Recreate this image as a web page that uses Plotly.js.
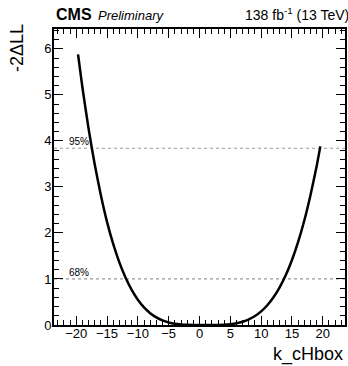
<!DOCTYPE html>
<html><head><meta charset="utf-8">
<script src="https://cdn.plot.ly/plotly-3.0.1.min.js"></script>
<style>html,body{margin:0;padding:0;background:#fff}#chart{width:348px;height:366px}</style>
</head><body><div id="chart"></div>
<script>
const kValues = [-19.7,-19,-18,-17,-16,-15,-14,-13,-12,-11,-10,-9,-8,-7,-6,-5,-4,-3,-2,-1,0,1,2,3,4,5,6,7,8,9,10,11,12,13,14,15,16,17,18,19,19.6];
const nllValues = [5.88,5.17,4.27,3.49,2.82,2.24,1.76,1.36,1.03,0.762,0.55,0.383,0.257,0.165,0.099,0.055,0.027,0.0115,0.0037,0.0007,0.0001,0,0.0002,0.0017,0.0066,0.0176,0.038,0.0715,0.122,0.196,0.296,0.429,0.601,0.818,1.086,1.413,1.805,2.27,2.82,3.45,3.88];
const clLevels = [1.0, 3.84];
const clLabels = ['68%', '95%'];
const xTitle = 'k_cHbox';
const yTitle = '-2\u0394LL';

const font = 'Liberation Sans, Arial, sans-serif';
const shapes = clLevels.map(v => ({type:'line', xref:'paper', x0:0, x1:1, yref:'y', y0:v, y1:v,
  line:{color:'#999', width:1.2, dash:'dot'}, layer:'between'}));
const annotations = clLevels.map((v,i) => ({xref:'paper', x:0.045, yref:'y', y:v, text:clLabels[i],
  showarrow:false, xanchor:'left', yanchor:'bottom', font:{family:font, size:10, color:'#000'}, yshift:-1}));
annotations.push(
  {xref:'paper', yref:'paper', x:0, y:1, yshift:4, text:'<b>CMS</b>', showarrow:false, xanchor:'left', yanchor:'bottom', font:{family:font, size:16, color:'#000'}},
  {xref:'paper', yref:'paper', x:0.145, y:1, yshift:4, text:'<i>Preliminary</i>', showarrow:false, xanchor:'left', yanchor:'bottom', font:{family:font, size:13, color:'#000'}},
  {xref:'paper', yref:'paper', x:1.02, y:1, yshift:4, text:'138 fb<sup>-1</sup> (13 TeV)', showarrow:false, xanchor:'right', yanchor:'bottom', font:{family:font, size:14, color:'#000'}},
  {xref:'paper', yref:'paper', x:1, y:-0.101, text:xTitle, showarrow:false, xanchor:'right', yanchor:'middle', font:{family:font, size:18, color:'#000'}},
  {xref:'paper', yref:'paper', x:-0.127, y:1.0236, text:yTitle, textangle:-90, showarrow:false, xanchor:'center', yanchor:'top', font:{family:font, size:18, color:'#000'}}
);

Plotly.newPlot('chart', [{
  x: kValues, y: nllValues, type:'scatter', mode:'lines',
  line:{color:'#000', width:2.5, shape:'spline', smoothing:0.6}, hoverinfo:'skip'
}], {
  width:348, height:366,
  margin:{l:54, r:3, t:29, b:41},
  paper_bgcolor:'#fff', plot_bgcolor:'#fff',
  showlegend:false,
  font:{family:font, color:'#000'},
  xaxis:{range:[-23.6,23.6], tickmode:'linear', tick0:0, dtick:5,
    ticks:'inside', ticklen:9, tickwidth:1.3, tickcolor:'#000',
    minor:{dtick:1, ticks:'inside', ticklen:5, tickwidth:1.2, tickcolor:'#000'},
    showline:true, linecolor:'#000', linewidth:2, mirror:'ticks', showgrid:false, zeroline:false,
    tickfont:{family:font, size:13, color:'#000'}, ticklabelstandoff:-5},
  yaxis:{range:[0,6.43], tickmode:'linear', tick0:0, dtick:1,
    ticks:'inside', ticklen:9, tickwidth:1.3, tickcolor:'#000',
    minor:{dtick:0.2, ticks:'inside', ticklen:5, tickwidth:1.2, tickcolor:'#000'},
    showline:true, linecolor:'#000', linewidth:2, mirror:'ticks', showgrid:false, zeroline:false,
    tickfont:{family:font, size:13, color:'#000'}, ticklabelstandoff:-2},
  shapes: shapes,
  annotations: annotations
}, {displayModeBar:false});
</script></body></html>
